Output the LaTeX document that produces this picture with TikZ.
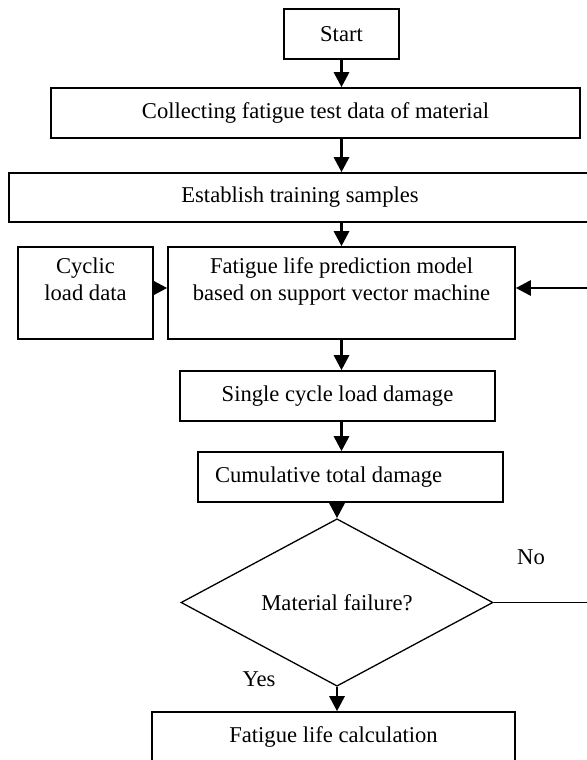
\documentclass[tikz,border=0pt]{standalone}
\usepackage{fontspec}
\setmainfont{Liberation Serif}
\usepackage{tikz}
\usetikzlibrary{shapes.geometric,arrows.meta,calc}
\tikzstyle{box} = [draw, line width=0.8pt, inner sep=0pt, align=center, font=\fontsize{11.3}{13.5}\selectfont]
\tikzstyle{decision} = [draw, diamond, line width=0.65pt, inner sep=0pt, minimum width=156pt, minimum height=64.5pt, font=\fontsize{11.3}{13.5}\selectfont]
\tikzstyle{line} = [draw, line width=1.4pt, -{Triangle[length=7.5pt,width=7.5pt]}]
\tikzstyle{label} = [font=\fontsize{11.3}{13.5}\selectfont]

\begin{document}
\begin{tikzpicture} [x=0.5pt,y=-0.5pt]

		\clip (0,0) rectangle (587,760);
		\fill [white] (0,0) rectangle (587,760);

		\node [box, minimum width=57.5pt, minimum height=25pt] (start) at (341.5,34) {Start};
		\node [box, minimum width=264.5pt, minimum height=25pt] (collect) at (315.5,113) {Collecting fatigue test data of material};
		\node [box, minimum width=291pt, minimum height=24.5pt] (samples) at (300,197.5) {Establish training samples};
		\node [box, minimum width=67.5pt, minimum height=46pt] (cyclic) at (85.5,293) {Cyclic\\load data\\ \mbox{}};
		\node [box, minimum width=173.5pt, minimum height=46pt] (model) at (341.5,293) {Fatigue life prediction model\\based on support vector machine\\ \mbox{}};
		\node [box, minimum width=157.5pt, minimum height=25pt] (single) at (337.5,396) {Single cycle load damage};
		\node [box, minimum width=152.5pt, minimum height=25pt] (total) at (350.5,477) {\makebox[135.5pt][l]{Cumulative total damage}};
		\node [decision] (fail) at (337,602.5) {Material failure?};
		\node [box, minimum width=181.5pt, minimum height=25pt] (life) at (333.5,737) {Fatigue life calculation};

		\node [label] (no) at (531,557) {No};
		\node [label] (yes) at (259,679) {Yes};
		\coordinate (back) at (592,0);

		\path [line] (start.south) -- (start.south |- collect.north);
		\path [line] (collect.south -| start) -- (samples.north -| start);
		\path [line] (samples.south -| model) -- (model.north);
		\path [line] ([yshift=2.5pt]cyclic.east) -- ([yshift=2.5pt]model.west);
		\path [line] (model.south) -- (model.south |- single.north);
		\path [line] (single.south -| model) -- (total.north -| model);
		\path [line] (total.south -| fail) -- (fail.north);
		\path [line] (fail.south) -- (fail.south |- life.north);

		\draw [line width=0.65pt] (fail.east) -- (fail.east -| back) -- ([yshift=2.5pt]model.east -| back);
		\path [line] ([yshift=2.5pt]model.east -| back) -- ([yshift=2.5pt]model.east);

\end{tikzpicture}
\end{document}
